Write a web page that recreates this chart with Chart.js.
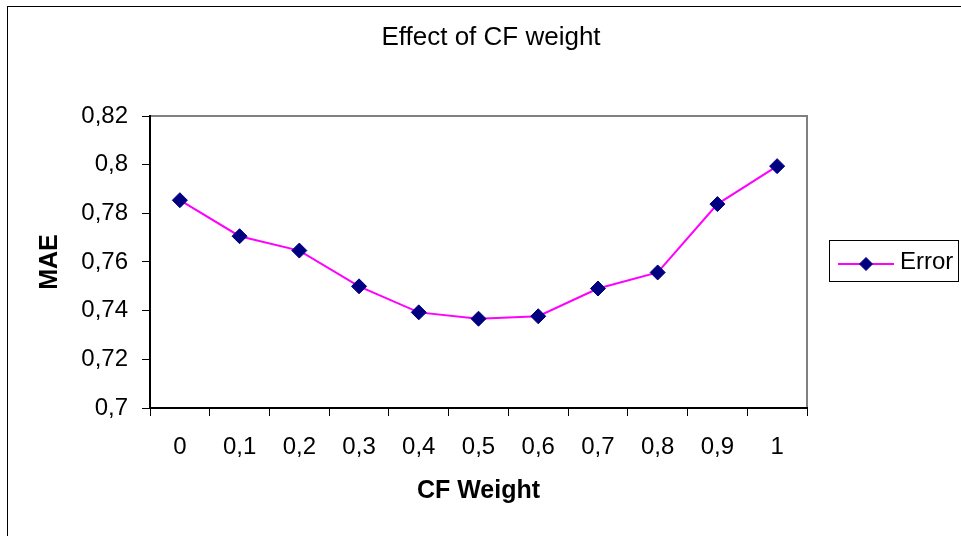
<!DOCTYPE html>
<html>
<head>
<meta charset="utf-8">
<script src="https://cdn.jsdelivr.net/npm/chart.js@4/dist/chart.umd.min.js"></script>
<style>
  html, body { margin: 0; padding: 0; background: #fff; }
  #wrap { width: 961px; height: 536px; position: relative; }
</style>
</head>
<body>
<div id="wrap"><canvas id="chart" width="961" height="536"></canvas></div>
<script>
// data
var cfWeights = ['0', '0,1', '0,2', '0,3', '0,4', '0,5', '0,6', '0,7', '0,8', '0,9', '1'];
var errorValues = [0.7854, 0.7706, 0.7647, 0.7500, 0.7393, 0.7367, 0.7377, 0.7491, 0.7557, 0.7838, 0.7994];
var seriesName = 'Error';
var chartTitle = 'Effect of CF weight';
var xTitle = 'CF Weight';
var yTitle = 'MAE';
var yMin = 0.7, yMax = 0.82, yStep = 0.02;

var FONT = 'Arial, "Liberation Sans", sans-serif';
var LINE = '#FF00FF';
var MARK = '#000080';

// frame, title and legend, Excel style
var excelDecor = {
  id: 'excelDecor',
  beforeDraw: function (chart) {
    var ctx = chart.ctx;
    ctx.save();
    ctx.fillStyle = '#fff';
    ctx.fillRect(0, 0, chart.width, chart.height);
    // outer chart border (runs off the picture at right and bottom)
    ctx.strokeStyle = '#000';
    ctx.lineWidth = 1;
    ctx.strokeRect(7.5, 6.5, 2000, 2000);
    // plot area top and right edges in grey
    var a = chart.chartArea;
    ctx.strokeStyle = '#808080';
    ctx.lineWidth = 2;
    ctx.beginPath();
    ctx.moveTo(a.left, a.top);
    ctx.lineTo(a.right, a.top);
    ctx.lineTo(a.right, a.bottom);
    ctx.stroke();
    ctx.restore();
  },
  afterDraw: function (chart) {
    var ctx = chart.ctx;
    ctx.save();
    // title
    ctx.fillStyle = '#000';
    ctx.font = '26px ' + FONT;
    ctx.textAlign = 'center';
    ctx.textBaseline = 'middle';
    ctx.fillText(chartTitle, 491, 38);

    // legend
    var ds = chart.data.datasets[0];
    ctx.strokeStyle = '#000';
    ctx.lineWidth = 1;
    ctx.strokeRect(829.5, 240.5, 129, 41);
    ctx.strokeStyle = ds.borderColor;
    ctx.lineWidth = 2;
    ctx.beginPath();
    ctx.moveTo(838, 264);
    ctx.lineTo(894, 264);
    ctx.stroke();
    ctx.fillStyle = ds.pointBackgroundColor;
    ctx.strokeStyle = ds.pointBorderColor;
    ctx.lineWidth = 1;
    Chart.helpers.drawPoint(ctx, { pointStyle: 'rectRot', radius: 6.5, borderWidth: 1 }, 866, 264);
    ctx.fillStyle = '#000';
    ctx.font = '24px ' + FONT;
    ctx.textAlign = 'left';
    ctx.fillText(ds.label, 900, 262);
    ctx.restore();
  }
};

new Chart(document.getElementById('chart'), {
  type: 'line',
  data: {
    labels: cfWeights,
    datasets: [{
      label: seriesName,
      data: errorValues,
      borderColor: LINE,
      borderWidth: 2,
      backgroundColor: LINE,
      pointStyle: 'rectRot',
      pointRadius: 7.5,
      pointBackgroundColor: MARK,
      pointBorderColor: MARK,
      pointBorderWidth: 1,
      tension: 0,
      fill: false
    }]
  },
  options: {
    responsive: false,
    animation: false,
    devicePixelRatio: 1,
    layout: { padding: { top: 116, right: 154, left: 0, bottom: 0 } },
    plugins: {
      legend: { display: false },
      title: { display: false },
      tooltip: { enabled: false }
    },
    scales: {
      x: {
        type: 'category',
        offset: true,
        afterFit: function (s) { s.height = 128; },
        grid: { offset: true, drawOnChartArea: false, tickLength: 8, color: '#000', lineWidth: 1 },
        border: { color: '#000', width: 2 },
        ticks: { color: '#000', font: { family: FONT, size: 24 }, padding: 17, maxRotation: 0, autoSkip: false },
        title: { display: true, text: xTitle, color: '#000', font: { family: FONT, size: 25, weight: 'bold' }, padding: { top: 0, bottom: 30 } }
      },
      y: {
        min: yMin,
        max: yMax,
        afterFit: function (s) { s.width = 150; },
        grid: { drawOnChartArea: false, tickLength: 8, color: '#000', lineWidth: 1 },
        border: { color: '#000', width: 2 },
        ticks: {
          stepSize: yStep,
          color: '#000',
          font: { family: FONT, size: 24 },
          padding: 14,
          callback: function (v) { return String(Math.round(v * 100) / 100).replace('.', ','); }
        },
        title: { display: true, text: yTitle, color: '#000', font: { family: FONT, size: 25, weight: 'bold' }, padding: { top: 35, bottom: 0 } }
      }
    }
  },
  plugins: [excelDecor]
});
</script>
</body>
</html>
